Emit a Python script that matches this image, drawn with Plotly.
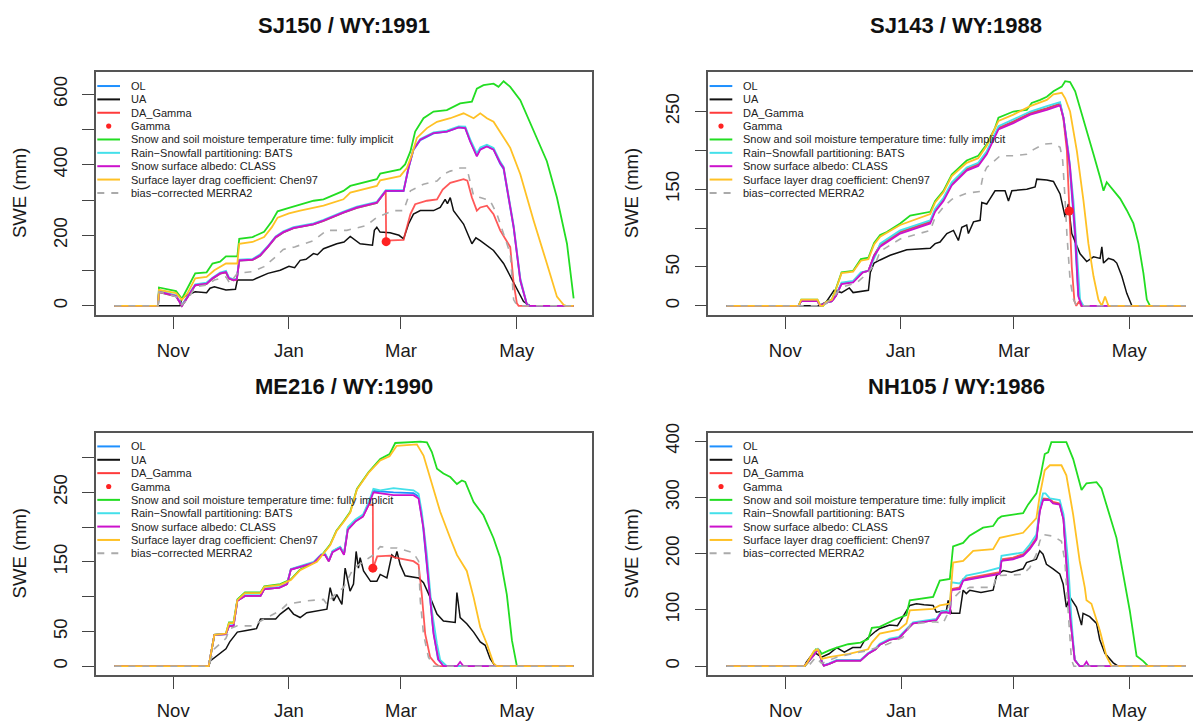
import plotly.graph_objects as go
import pandas as pd

# page body has an 8px default margin; figure is sized so that it ends at the window edge
OFF = 8
W, H = 1201 - OFF, 723 - OFF

# ---------------- DATA ----------------
TITLES = ["SJ150 / WY:1991", "SJ143 / WY:1988", "ME216 / WY:1990", "NH105 / WY:1986"]
WY_START = ["1990-10-01", "1987-10-01", "1989-10-01", "1985-10-01"]
SEASON_DAYS = [242, 243, 242, 242]

MONTH_TICK_DAYS = {  # day offsets of 1 Nov, 1 Jan, 1 Mar, 1 May for each water year
    "SJ150": [31, 92, 151, 212],
    "SJ143": [31, 92, 152, 213],
    "ME216": [31, 92, 151, 212],
    "NH105": [31, 92, 151, 212],
}
MONTH_LABELS = ["Nov", "Jan", "Mar", "May"]

Y_TICKS_SJ150 = [0, 100, 200, 300, 400, 500, 600]
Y_TEXT_SJ150 = ["0", "", "200", "", "400", "", "600"]
Y_TICKS_SJ143 = [0, 50, 100, 150, 200, 250]
Y_TEXT_SJ143 = ["0", "50", "", "150", "", "250"]
Y_TICKS_ME216 = [0, 50, 100, 150, 200, 250, 300]
Y_TEXT_ME216 = ["0", "50", "", "150", "", "250", ""]
Y_TICKS_NH105 = [0, 100, 200, 300, 400]
Y_TEXT_NH105 = ["0", "100", "200", "300", "400"]

LEGEND_NAMES = ["OL", "UA", "DA_Gamma", "Gamma",
                "Snow and soil moisture temperature time: fully implicit",
                "Rain\u2212Snowfall partitioning: BATS",
                "Snow surface albedo: CLASS",
                "Surface layer drag coefficient: Chen97",
                "bias\u2212corrected MERRA2"]

# (day since 1 Oct, SWE mm)
# ---- SJ150 WY1991 ----
SJ150_OL = [(0,0),(23,0),(23.5,39),(32.5,27),(35.6,0),(38.6,25),(42.6,58),(48.6,62),(51.7,77),(55.7,91),(58.8,95),(60.4,77),(62.8,72),(64.5,74),(65.8,128),(72.8,130),(76.8,142),(80.8,166),(85,194),(89,208),(94.4,220),(104.9,231),(110.2,241),(120.7,264),(127.8,278),(138.3,292),(140.1,306),(141.8,317),(143,325),(152.4,325),(155,390),(157.6,442),(161.2,470),(168.2,489),(175.2,494),(181.4,506),(184.9,504),(187.5,467),(191,426),(192.8,445),(196.3,453),(199.8,444),(203.3,403),(205.1,388),(210.4,221),(213.9,70),(217.4,3),(219,0),(242,0)]
SJ150_UA = [(0,0),(34.6,0),(35.5,21),(38.6,31),(42.6,40),(48.6,37),(50.4,50),(52.7,54),(58.8,45),(63.8,47),(64.8,73),(72.8,73),(80.9,92),(87.4,101),(92,112),(95,108),(97.9,129),(101,132),(104.9,148),(107,145),(110.2,162),(117.2,176),(121,181),(124.3,197),(129.5,176),(134.8,171),(136,172),(137,214),(138.3,223),(140,209),(145.3,207),(150,200),(152.4,190),(155,232),(157.6,260),(161.2,270),(168.2,270),(171.7,279),(174.3,302),(175.5,290),(177,307),(178.7,270),(184,232),(188.4,176),(190.5,193),(192.8,185),(199.8,157),(205.1,120),(210.4,64),(215.6,12),(218.3,3),(219,0),(242,0)]
SJ150_DA = [(0,0),(23,0),(23.5,39),(32.5,27),(35.6,0),(38.6,25),(42.6,58),(48.6,62),(51.7,77),(55.7,91),(58.8,95),(60.4,77),(62.8,72),(64.5,74),(65.8,128),(72.8,130),(76.8,142),(80.8,166),(85,194),(89,208),(94.4,220),(104.9,231),(110.2,241),(120.7,264),(127.8,278),(138.3,292),(140.1,306),(141.8,317),(143,325),(143.2,185),(152.4,187),(153.2,204),(156,260),(158.5,288),(164.7,298),(170,302),(173,330),(177,349),(184,359),(186,355),(188.4,307),(191,270),(192.8,279),(196.3,284),(199.8,260),(203.3,214),(206.8,185),(208.6,167),(210.4,64),(212.1,7),(213,0),(242,0)]
SJ150_GAMMA = [(143.2, 182)]
SJ150_IMPLICIT = [(0,0),(23,0),(23.5,52),(32.5,42),(35.6,20),(38.6,50),(42.6,92),(48.6,95),(51.7,120),(55.7,125),(58.8,140),(64.8,140),(65.8,190),(72.8,195),(78.9,210),(83,240),(86,268),(92,278),(97.9,288),(105,298),(110.2,302),(120.7,326),(124.3,340),(138.3,359),(140.1,375),(150.6,387),(153.2,401),(156,438),(158.5,494),(162.9,532),(168.2,551),(175.2,555),(182.2,574),(188.4,579),(191,616),(194.5,626),(199.8,630),(202.4,621),(205.1,637),(208.6,621),(213.9,583),(220.9,494),(227.9,410),(233.2,307),(238.5,176),(242,21)]
SJ150_BATS = [(0,0),(23,0),(23.5,42),(32.5,30),(35.6,2),(38.6,28),(42.6,61),(48.6,66),(51.7,80),(55.7,94),(58.8,99),(60.4,80),(62.8,75),(64.5,77),(65.8,131),(72.8,133),(76.8,146),(80.8,169),(85,197),(89,211),(94.4,223),(104.9,234),(110.2,244),(120.7,267),(127.8,281),(138.3,295),(140.1,309),(141.8,320),(143,328),(152.4,328),(155,393),(157.6,445),(161.2,473),(168.2,492),(175.2,497),(181.4,509),(184.9,508),(187.5,472),(191,432),(192.8,449),(196.3,457),(199.8,448),(203.3,409),(205.1,394),(210.4,228),(213.9,78),(217.4,4),(219,0),(242,0)]
SJ150_CLASS = [(0,0),(23,0),(23.5,40),(32.5,28),(35.6,0),(38.6,26),(42.6,59),(48.6,63),(51.7,78),(55.7,92),(58.8,96),(60.4,78),(62.8,73),(64.5,75),(65.8,129),(72.8,131),(76.8,143),(80.8,167),(85,195),(89,209),(94.4,221),(104.9,232),(110.2,242),(120.7,265),(127.8,279),(138.3,293),(140.1,307),(141.8,318),(143,326),(152.4,326),(155,391),(157.6,443),(161.2,471),(168.2,490),(175.2,494),(181.4,506),(184.9,504),(187.5,466),(191,424),(192.8,443),(196.3,452),(199.8,443),(203.3,405),(205.1,391),(210.4,223),(213.9,73),(217.4,3),(219,0),(242,0)]
SJ150_CHEN97 = [(0,0),(23,0),(23.5,45),(32.5,36),(35.6,17),(38.6,36),(42.6,78),(48.6,82),(52.7,101),(58.8,120),(64.8,120),(65.8,176),(72.8,181),(78.9,195),(83,223),(86,250),(92,262),(97.9,270),(110.2,284),(120.7,302),(124.3,321),(138.3,340),(140.1,356),(150.6,368),(154.1,391),(156.8,429),(159.4,476),(164.7,504),(170,522),(177,532),(184,546),(189.3,532),(192.8,546),(196.3,532),(199.8,522),(203.3,494),(208.6,448),(213.9,373),(220.9,242),(227.9,120),(233.2,26),(236.7,3),(238,0),(242,0)]
SJ150_MERRA2 = [(0,0),(23,0),(23.5,40),(32.5,26),(35.6,3),(38.6,17),(42.6,54),(48.6,59),(52.7,73),(58.8,82),(60.8,64),(64.8,92),(72.8,97),(78.9,111),(85,139),(89,160),(95,167),(104.9,185),(112,214),(122.5,214),(133,228),(138.3,251),(147,270),(152.4,270),(156,326),(162.9,345),(170,354),(173.4,373),(177,382),(182.2,391),(185.7,391),(189.3,312),(192.8,307),(198,298),(201.6,260),(205.1,204),(208.6,148),(210.4,17),(212,3),(213,0),(242,0)]

# ---- SJ143 WY1988 ----
SJ143_OL = [(0,0),(38,0),(39.5,6),(48,6),(49.6,0),(52.7,4),(55.7,6),(57.8,13),(60.8,29),(66.9,31),(72,43),(75,45),(78,65),(81.2,78),(91.8,95),(107.7,108),(110.3,123),(114.7,137),(119.1,157),(127,176),(133.1,182),(137.6,197),(143.8,229),(151.7,237),(160.6,248),(169.4,254),(176.4,260),(178.2,242),(181.2,188),(184,100),(186,14),(187.9,0),(243,0)]
SJ143_UA = [(0,0),(48.7,0),(52.7,5),(56.8,20),(60.8,17),(64.9,23),(66.9,17),(75,20),(76,43),(78,55),(81.2,59),(86.5,65),(95.3,72),(107.7,74),(110.3,80),(112.9,82),(116.5,93),(120,97),(122.6,84),(124.4,101),(127,104),(127.9,93),(130.6,108),(134.1,110),(135,133),(137.6,131),(139.4,138),(142,148),(147.3,148),(149.1,135),(150.9,148),(158.8,150),(163.2,153),(164.1,163),(169.4,162),(172.9,160),(176.4,144),(179.1,114),(180.8,131),(182.6,93),(187,67),(190.5,57),(194.1,63),(197.6,61),(198.5,76),(199.4,55),(202,61),(204.7,59),(206.4,55),(209.1,38),(211.7,16),(214.4,0),(243,0)]
SJ143_DA = [(0,0),(38,0),(39.5,6),(48,6),(49.6,0),(52.7,4),(55.7,6),(57.8,13),(60.8,29),(66.9,31),(72,43),(75,45),(78,65),(81.2,78),(91.8,95),(107.7,108),(110.3,123),(114.7,137),(119.1,157),(127,176),(133.1,182),(137.6,197),(143.8,229),(151.7,237),(160.6,248),(169.4,254),(176.4,260),(178.2,240),(180,200),(181.2,122),(182.6,50),(184,6),(185,0),(186.5,6),(187.5,0),(243,0)]
SJ143_GAMMA = [(181.2, 122)]
SJ143_IMPLICIT = [(0,0),(38,0),(39.5,8),(48,8),(49.6,0),(51,0),(52.7,5),(55.7,8),(57.8,22),(60.8,43),(66.9,45),(71,60),(75,62),(78,81),(81.2,91),(84.7,95),(91.8,106),(97.1,116),(107.7,121),(110.3,135),(114.7,148),(119.1,169),(127,187),(133.1,193),(137.6,208),(142,229),(143.8,242),(151.7,250),(158.8,252),(161.4,261),(165.9,265),(169.4,269),(172.9,276),(177.3,282),(179.1,289),(181.7,288),(184.4,276),(187,255),(190.5,225),(194.1,195),(197.6,165),(199.4,148),(201.1,159),(204.7,148),(208.2,138),(211.7,123),(215.2,106),(217.9,80),(220.5,42),(222.3,8),(224,0),(243,0)]
SJ143_BATS = [(0,0),(38,0),(39.5,6),(48,6),(49.6,0),(52.7,4),(55.7,6),(57.8,14),(60.8,30),(66.9,32),(71,43),(75,45),(79,66),(81.2,80),(91.8,97),(107.7,110),(110.3,125),(114.7,139),(119.1,159),(127,178),(133.1,184),(137.6,199),(143.8,231),(151.7,240),(160.6,250),(169.4,257),(176.4,262),(178.2,242),(180.8,199),(183.5,135),(185.3,67),(187,8),(188.8,0),(243,0)]
SJ143_CLASS = [(0,0),(38,0),(39.5,6),(48,6),(49.6,0),(52.7,4),(55.7,6),(57.8,13),(60.8,28),(66.9,30),(72,43),(75,45),(78,64),(81.2,76),(91.8,93),(107.7,106),(110.3,121),(114.7,135),(119.1,155),(127,174),(133.1,180),(137.6,195),(143.8,227),(151.7,235),(160.6,246),(169.4,252),(176.4,258),(178.2,242),(181.7,178),(184.4,93),(186.1,12),(187.9,0),(243,0)]
SJ143_CHEN97 = [(0,0),(38,0),(39.5,8),(48,8),(49.6,0),(51,0),(52.7,5),(55.7,8),(57.8,21),(60.8,42),(66.9,44),(71,58),(75,60),(78,79),(81.2,89),(91.8,104),(107.7,118),(110.3,133),(114.7,146),(119.1,167),(127,184),(133.1,190),(137.6,206),(143.8,238),(151.7,246),(160.6,257),(169.4,265),(172.9,272),(177.3,274),(179.1,267),(181.7,250),(185.3,199),(188.8,135),(191.4,80),(194.1,38),(196.7,8),(198.5,0),(200.2,12),(202,0),(243,0)]
SJ143_MERRA2 = [(0,0),(50,0),(52.7,3),(57.8,15),(60.8,24),(69,30),(75,43),(79,56),(81.2,70),(91.8,86),(107.7,97),(110.3,114),(115,128),(119.1,137),(127,145),(134,147),(135.8,169),(137.6,178),(144.7,193),(151.7,193),(158.8,195),(162.3,201),(167.6,208),(172.9,209),(176.4,204),(177.8,187),(179.1,135),(180,93),(181.7,33),(183.5,8),(185.3,0),(243,0)]

# ---- ME216 WY1990 ----
ME216_OL = [(0,0),(49.7,0),(52.7,45),(58.8,46),(60.4,58),(62.8,58),(64.8,94),(68.8,101),(77,101),(79,111),(87,113),(91,118),(93,139),(101,146),(105,149),(109,160),(111,161),(113,151),(115,165),(119,171),(121,161),(123,198),(127,209),(131,216),(134,234),(136.5,252),(140.1,251),(147.1,250),(157.6,249),(160.3,244),(162.5,205),(165,140),(168,52),(170.5,10),(173.5,0),(242,0)]
ME216_UA = [(0,0),(49.7,0),(50.7,8),(54.7,16),(58.8,25),(60.8,35),(64.8,49),(68.8,51),(74.9,54),(77,68),(85,68),(87.4,75),(91.7,84),(94.4,75),(97.9,70),(101.4,77),(112,82),(113.7,113),(115.5,94),(117.2,103),(119.9,89),(121.6,141),(124.2,108),(126,118),(127.4,165),(128.6,141),(129.5,156),(131.3,137),(135,122),(138.3,122),(140.1,132),(143.6,127),(146.2,160),(148,156),(148.9,165),(150.6,146),(153.2,130),(160.3,127),(162.9,120),(166.4,99),(170,75),(173.4,65),(179.6,63),(180.5,106),(182.2,70),(185.7,61),(189.3,49),(192.8,35),(195.4,30),(198,11),(200.7,0),(242,0)]
ME216_DA = [(0,0),(49.7,0),(52.7,45),(58.8,46),(60.4,58),(62.8,58),(64.8,94),(68.8,101),(77,101),(79,111),(87,113),(91,118),(93,139),(101,146),(105,149),(109,160),(111,161),(113,151),(115,165),(119,171),(121,161),(123,198),(127,209),(131,216),(134,232),(136.2,232),(136.3,141),(138.5,158),(140.1,158),(145.3,159),(148,156),(154.1,153),(157.6,151),(160.3,146),(162,103),(163.8,46),(166.4,13),(169.1,4),(171,0),(242,0)]
ME216_GAMMA = [(136.2, 141)]
ME216_IMPLICIT = [(0,0),(49.7,0),(52.7,45),(58.8,47),(60.4,63),(62.8,63),(64.8,96),(68.8,106),(77,106),(79,115),(87.4,118),(93,125),(97.9,139),(106.7,151),(113.7,175),(117,195),(120.7,208),(124.3,222),(127.8,255),(133.9,279),(140.1,298),(145,305),(148,321),(154.1,322),(161.2,323),(164.7,322),(167.3,308),(170,284),(173.4,277),(177,272),(180.5,262),(183.1,267),(184.9,265),(189.3,236),(194.5,217),(199.8,184),(203.3,156),(206.8,103),(209.5,37),(212.1,0),(242,0)]
ME216_BATS = [(0,0),(49.7,0),(52.7,45),(58.8,46),(60.4,59),(62.8,59),(64.8,95),(68.8,102),(77,102),(79,112),(87,114),(91,119),(93,140),(101,147),(105,150),(109,161),(111,162),(113,152),(115,166),(119,172),(121,162),(123,200),(127,211),(131,218),(134,236),(136.5,255),(140.1,253),(147.1,256),(157.6,253),(160.3,248),(162,222),(164.7,160),(167.3,80),(170,32),(171.7,9),(175.2,0),(242,0)]
ME216_CLASS = [(0,0),(49.7,0),(52.7,45),(58.8,46),(60.4,58),(62.8,58),(64.8,94),(68.8,101),(77,101),(79,111),(87,113),(91,118),(93,139),(101,146),(105,148.5),(109,160),(111,160),(113,151),(115,164),(119,170),(121,160),(123,196),(127,208),(131,215),(134,232),(136.5,250),(140.1,249),(147.1,246),(157.6,246),(160.3,241),(162.9,198),(165.5,127),(168.2,46),(170.8,9),(173.5,0),(180.5,0),(182.2,6),(184,0),(242,0)]
ME216_CHEN97 = [(0,0),(49.7,0),(52.7,45),(58.8,47),(60.4,62),(62.8,62),(64.8,95),(68.8,105),(77,105),(79,114),(87.4,117),(93,124),(97.9,138),(106.7,150),(113.7,174),(117,194),(120.7,207),(124.3,221),(127.8,254),(133.9,278),(140.1,296),(145,302),(148.8,317),(159.4,319),(162.9,303),(166.4,270),(171.7,222),(177,184),(180.5,160),(185.7,137),(189.3,99),(192.8,56),(196.3,32),(199.8,4),(201.6,0),(242,0)]
ME216_MERRA2 = [(0,0),(49.7,0),(52.7,25),(58.8,40),(60.8,54),(64.8,58),(72.8,58),(79,68),(87.4,80),(90.9,89),(101.4,94),(110.2,96),(112,89),(115,100),(120.7,113),(126,141),(131,150),(136.5,160),(140.1,172),(145,170),(148.9,170),(157.6,163),(160.3,151),(161.2,94),(162.9,46),(165.5,13),(168.2,0),(242,0)]

# ---- NH105 WY1986 ----
NH105_OL = [(0,0),(41,0),(46,20),(48.2,30),(50.2,7),(51.2,1),(54,4),(58,10),(70.5,10),(74.5,22),(78.5,30),(80.65,38),(85.9,47),(90.7,50),(94.7,64),(98.2,76),(110.5,82),(113,95),(115.8,96),(117.6,94),(118.4,136),(122.8,138),(124.6,153),(135.1,159),(143.9,165),(144.8,188),(150.9,191),(156.2,197),(159.7,209),(163.2,226),(165,277),(166.7,297),(170.3,296),(172,290),(175.5,288),(177.5,262),(179,190),(180.8,95),(183.4,11),(186,0),(242,0)]
NH105_UA = [(0,0),(41,0),(42,7),(46,25),(50,16),(54,22),(58,33),(62,25),(66.4,33),(70.5,33),(72.5,45),(74.5,51),(78.5,62),(80.65,67),(85.9,73),(90,72),(93.8,94),(96.5,108),(100,111),(104,109),(108.8,108),(110.5,96),(115.8,99),(116.7,117),(118.4,94),(122.8,94),(124.6,135),(126.3,129),(128.1,135),(134,131),(140.4,135),(142.2,161),(145.7,170),(150,167),(156.2,173),(158,184),(163.2,190),(165,205),(166.7,199),(168.5,181),(172,173),(175.5,164),(177.3,146),(179,105),(180.8,123),(184.3,105),(187,73),(187.8,94),(191.3,88),(194.9,76),(196.6,47),(199.3,23),(203.7,6),(206.3,0),(242,0)]
NH105_DA = [(0,0),(41,0),(46,20),(48.2,30),(50.2,7),(51.2,1),(54,4),(58,10),(70.5,10),(74.5,22),(78.5,30),(80.65,38),(85.9,47),(90.7,50),(94.7,64),(98.2,76),(110.5,82),(113,95),(115.8,96),(117.6,94),(118.4,137),(122.8,140),(124.6,155),(135.1,161),(143.9,167),(144.8,190),(150.9,193),(156.2,199),(159.7,211),(163.2,228),(165,278),(166.7,298),(170.3,297),(172,292),(175.5,289),(177.5,262),(179,190),(180.8,95),(183.4,11),(186,0),(242,0)]
NH105_GAMMA = []
NH105_IMPLICIT = [(0,0),(41,0),(43,7),(47,30),(49,28),(50,22),(54,28),(58,33),(64,39),(70.5,42),(74.5,48),(76.5,68),(80.65,70),(88.7,83),(94.7,91),(96.5,117),(108.8,123),(112.3,152),(117.6,155),(119.3,213),(124.6,219),(128,232),(135.1,246),(140.4,249),(143,262),(144.8,266),(156.2,272),(158.8,287),(163.2,307),(165.5,340),(167.6,377),(169.4,380),(171.1,398),(177.3,399),(179,398),(182.6,368),(187,313),(189.6,325),(194.9,327),(197.5,316),(201.9,269),(205.4,228),(208.9,164),(212.4,99),(216,18),(219.5,9),(222.1,0),(242,0)]
NH105_BATS = [(0,0),(41,0),(46,21),(48.2,32),(50.2,8),(51.2,2),(54,5),(58,11),(70.5,11),(74.5,23),(78.5,32),(80.65,40),(85.9,49),(90.7,52),(94.7,66),(98.2,78),(110.5,84),(113,97),(115.8,99),(117.6,97),(118.4,149),(122.8,147),(126.3,161),(135.1,167),(143.9,175),(144.8,196),(156.2,202),(159.7,216),(163.2,234),(165,281),(166.7,307),(168,307),(170.3,298),(175.5,295),(177.5,270),(179.9,187),(181.7,82),(183.4,12),(186,0),(242,0)]
NH105_CLASS = [(0,0),(41,0),(46,20),(48.2,30),(50.2,7),(51.2,1),(54,4),(58,10),(70.5,10),(74.5,22),(78.5,30),(80.65,38),(85.9,47),(90.7,50),(94.7,64),(98.2,76),(110.5,82),(113,95),(115.8,96),(117.6,94),(118.4,135),(122.8,137),(124.6,152),(135.1,158),(143.9,164),(144.8,187),(150.9,190),(156.2,196),(159.7,208),(163.2,225),(165,275),(166.7,295),(170.3,295),(172,289),(175.5,287),(177.5,260),(179,188),(180.8,94),(183.4,11),(186,0),(188,0),(189.6,8),(191,0),(242,0)]
NH105_CHEN97 = [(0,0),(41,0),(42,4),(46,27),(48,30),(50,13),(54,16),(64.5,22),(74.5,30),(76.5,42),(80.65,58),(90.7,65),(94.7,76),(96.5,99),(108.8,102),(112.3,108),(117.6,111),(119.3,184),(124.6,187),(129.9,205),(140.4,208),(143.9,228),(156.2,237),(158.8,246),(163.2,263),(165,304),(167.6,348),(170.3,357),(176.4,357),(179,339),(182.6,269),(186,187),(188.7,140),(189.6,117),(192.2,111),(196.6,64),(200.1,18),(202.8,0),(242,0)]
NH105_MERRA2 = [(0,0),(43,0),(47,16),(50,5),(58,16),(74.5,28),(84.6,39),(92.7,51),(94.7,60),(97,75),(110,79),(114,76),(116,90),(118.4,117),(122.8,132),(128.1,140),(140.4,140),(142.2,161),(156,163),(159.7,175),(163.2,199),(165,222),(166.7,234),(172,231),(176.4,222),(178.2,187),(179.9,99),(181.7,11),(183,0),(242,0)]

# ---------------- STYLE ----------------
FONT = "Liberation Sans, Arial, sans-serif"
COLORS = {"OL": "#1E90FF", "UA": "#111111", "DA": "#FF3B3B", "GAMMA": "#FF2222",
          "IMPLICIT": "#22DD22", "BATS": "#44E0EA", "CLASS": "#CC11CC",
          "CHEN97": "#FFC125", "MERRA2": "#AAAAAA"}
LEG_KEYS = ["OL", "UA", "DA", "GAMMA", "IMPLICIT", "BATS", "CLASS", "CHEN97", "MERRA2"]
DASH = "7px,7px"

SITES = ["SJ150", "SJ143", "ME216", "NH105"]
G = globals()

# box geometry in window pixels: (left, top, width, height)
BOX_W, BOX_H = 496, 246
BOXES = [(96, 63, BOX_W, BOX_H), (708.3, 63, BOX_W, BOX_H),
         (96, 428.5, BOX_W, BOX_H), (708.3, 428.5, BOX_W, BOX_H)]
WIN_W = 1201


def px(x):
    return (x - OFF) / W


def py(y):
    return 1 - (y - OFF) / H


fig = go.Figure()
annotations = []
shapes = []

for i, site in enumerate(SITES):
    start = pd.Timestamp(WY_START[i])
    ndays = SEASON_DAYS[i]
    xa = "x" if i == 0 else f"x{i+1}"
    ya = "y" if i == 0 else f"y{i+1}"
    bx, by, bw, bh = BOXES[i]

    def to_dates(pairs):
        return [start + pd.Timedelta(days=d) for d, _ in pairs]

    order = ["OL", "UA", "DA", "IMPLICIT", "BATS", "CLASS", "CHEN97", "MERRA2"]
    ymax = 0
    for key in order:
        pairs = G[f"{site}_{key}"]
        ymax = max(ymax, max(v for _, v in pairs))
        line = dict(color=COLORS[key], width=1.8)
        opacity = 1.0
        if key == "UA":
            line["width"] = 1.5
        if key == "MERRA2":
            line["dash"] = DASH
            line["width"] = 1.6
        if key == "DA":
            opacity = 0.85
        fig.add_trace(go.Scatter(x=to_dates(pairs), y=[v for _, v in pairs], mode="lines",
                                 line=line, opacity=opacity, xaxis=xa, yaxis=ya,
                                 showlegend=False, hoverinfo="skip"))
    gam = G[f"{site}_GAMMA"]
    if gam:
        fig.add_trace(go.Scatter(x=to_dates(gam), y=[v for _, v in gam], mode="markers",
                                 marker=dict(color=COLORS["GAMMA"], size=9),
                                 xaxis=xa, yaxis=ya, showlegend=False, hoverinfo="skip"))

    # axis ranges like R (4% extension)
    x0 = start - pd.Timedelta(days=0.04 * ndays)
    ppd = bw / (ndays * 1.08)
    right_px = min(bx + bw, WIN_W)
    x1 = x0 + pd.Timedelta(days=(right_px - bx) / ppd)
    yr = [-0.04 * ymax, 1.04 * ymax]

    tickdays = MONTH_TICK_DAYS[site]
    tickvals = [start + pd.Timedelta(days=d) for d in tickdays]

    xkey = "xaxis" if i == 0 else f"xaxis{i+1}"
    ykey = "yaxis" if i == 0 else f"yaxis{i+1}"
    clipped = (bx + bw) > WIN_W
    fig.layout[xkey] = dict(
        domain=[px(bx), min(1.0, px(right_px))], anchor=ya, range=[x0, x1],
        tickvals=tickvals, ticktext=MONTH_LABELS, ticks="outside", ticklen=12,
        tickwidth=1.3, tickcolor="#444", showgrid=False, zeroline=False,
        showline=True, linecolor="#555", linewidth=1.5, mirror=True,
        tickfont=dict(family=FONT, size=18.5, color="#1a1a1a"), ticklabelstandoff=6,
    )
    fig.layout[ykey] = dict(
        domain=[py(by + bh), py(by)], anchor=xa, range=yr,
        tickvals=G[f"Y_TICKS_{site}"], ticktext=G[f"Y_TEXT_{site}"],
        ticks="outside", ticklen=12, tickwidth=1.3, tickcolor="#444",
        showgrid=False, zeroline=False, showline=True, linecolor="#555", linewidth=1.5,
        mirror=not clipped, tickangle=-90,
        tickfont=dict(family=FONT, size=18.5, color="#1a1a1a"), ticklabelstandoff=8,
    )

    # title
    annotations.append(dict(text=f"<b>{TITLES[i]}</b>", x=px(bx + bw / 2), y=py(by - 47),
                            xref="paper", yref="paper", showarrow=False, xanchor="center",
                            yanchor="middle", font=dict(family=FONT, size=22, color="#111")))
    # y label
    annotations.append(dict(text="SWE (mm)", x=px(bx - 76.5), y=py(by + bh / 2), xref="paper",
                            yref="paper", showarrow=False, textangle=-90, xanchor="center",
                            yanchor="middle", borderpad=0,
                            font=dict(family=FONT, size=18.5, color="#1a1a1a")))
    # legend (drawn inside box, R style, no frame)
    for k, (key, name) in enumerate(zip(LEG_KEYS, LEGEND_NAMES)):
        ry = by + 14 + 13.55 * k
        if key == "GAMMA":
            cx = bx + 12.7
            r = 2.6
            shapes.append(dict(type="circle", xref="paper", yref="paper",
                               x0=px(cx - r), x1=px(cx + r), y0=py(ry + r), y1=py(ry - r),
                               fillcolor=COLORS["GAMMA"], line=dict(width=0)))
        else:
            ln = dict(color=COLORS[key], width=2)
            if key == "MERRA2":
                ln["dash"] = DASH
            shapes.append(dict(type="line", xref="paper", yref="paper",
                               x0=px(bx + 1.3), x1=px(bx + 24), y0=py(ry), y1=py(ry), line=ln))
        annotations.append(dict(text=name, x=px(bx + 33), y=py(ry), xref="paper", yref="paper",
                                showarrow=False, xanchor="left", yanchor="middle",
                                font=dict(family=FONT, size=11, color="#222")))

fig.update_layout(width=W, height=H, margin=dict(l=0, r=0, t=0, b=0),
                  paper_bgcolor="white", plot_bgcolor="white",
                  annotations=annotations, shapes=shapes, showlegend=False)

fig.write_html("out.html")
